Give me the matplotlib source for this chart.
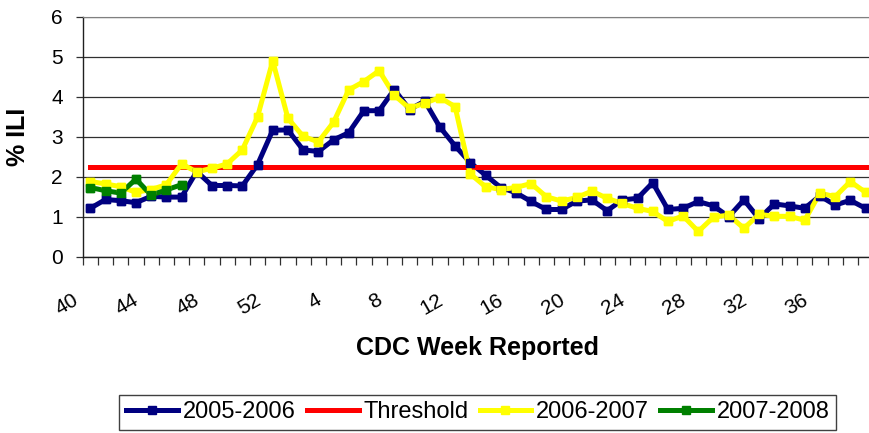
import matplotlib
matplotlib.use("Agg")
import matplotlib.pyplot as plt
from matplotlib.transforms import ScaledTranslation
import numpy as np

plt.rcParams['font.family'] = ['Liberation Sans', 'DejaVu Sans']

weeks = list(range(40, 53)) + list(range(1, 40))

s2005 = [1.21, 1.43, 1.40, 1.35, 1.51, 1.49, 1.49, 2.13, 1.78, 1.78,
         1.77, 2.30, 3.16, 3.17, 2.67, 2.63, 2.92, 3.10, 3.65, 3.65,
         4.18, 3.68, 3.89, 3.24, 2.77, 2.35, 2.04, 1.73, 1.60, 1.38,
         1.18, 1.18, 1.39, 1.42, 1.15, 1.42, 1.46, 1.85, 1.18, 1.21,
         1.38, 1.27, 1.00, 1.42, 0.95, 1.32, 1.27, 1.21, 1.52, 1.29,
         1.41, 1.21]
s2006 = [1.88, 1.82, 1.75, 1.61, 1.68, 1.80, 2.32, 2.12, 2.21, 2.32,
         2.67, 3.49, 4.90, 3.46, 3.01, 2.87, 3.36, 4.17, 4.38, 4.65,
         4.04, 3.71, 3.84, 3.98, 3.75, 2.07, 1.75, 1.68, 1.73, 1.83,
         1.50, 1.39, 1.48, 1.64, 1.46, 1.33, 1.21, 1.13, 0.88, 1.02,
         0.63, 0.99, 1.04, 0.71, 1.06, 1.01, 1.01, 0.91, 1.59, 1.50,
         1.88, 1.61]
s2007 = [1.73, 1.65, 1.59, 1.94, 1.54, 1.67, 1.80]
threshold_value = 2.25
threshold = [threshold_value] * len(weeks)

series_names = ['2005-2006', 'Threshold', '2006-2007', '2007-2008']
colors = ['#000080', '#FF0000', '#FFFF00', '#008000']

fig = plt.figure(figsize=(8.69, 4.33), dpi=100)
ax = fig.add_axes([0.09517, 0.40716, 0.90955, 0.55427])

x = np.arange(len(weeks))
lw = 3.6
ms = 5.5

ax.plot(x, s2005, color=colors[0], lw=lw, marker='s', ms=ms, label=series_names[0], zorder=3)
ax.plot(x, threshold, color=colors[1], lw=lw, label=series_names[1], zorder=3.1)
ax.plot(x, s2006, color=colors[2], lw=lw, marker='s', ms=ms, label=series_names[2], zorder=3.2)
ax.plot(np.arange(len(s2007)), s2007, color=colors[3], lw=lw, marker='s', ms=ms,
        label=series_names[3], zorder=3.3)
# markers drawn above all lines
ax.plot(x, s2005, ls='none', marker='s', ms=ms, color=colors[0], zorder=4)
ax.plot(x, s2006, ls='none', marker='s', ms=ms, color=colors[2], zorder=4.1)
ax.plot(np.arange(len(s2007)), s2007, ls='none', marker='s', ms=ms, color=colors[3], zorder=4.2)

ax.set_xlim(-0.5, len(weeks) - 0.5)
ax.set_ylim(0, 6)
ax.set_yticks(range(0, 7))
ax.grid(axis='y', color='#303030', lw=0.9, zorder=1)
ax.set_axisbelow(True)

ax.spines['right'].set_visible(False)
ax.spines['top'].set_color('#808080')
ax.spines['left'].set_color('#202020')
ax.spines['bottom'].set_color('#202020')
ax.spines['left'].set_linewidth(1.0)
ax.spines['bottom'].set_linewidth(1.0)

# major ticks at category boundaries, labels on minor ticks at centers
ax.set_xticks(np.arange(-0.5, len(weeks) + 0.5, 1.0))
ax.set_xticklabels([])
ax.set_xticks(x[::4], [str(w) for w in weeks[::4]], minor=True)
ax.tick_params(axis='x', which='major', direction='out', length=5.5, width=0.9, color='#303030')
ax.tick_params(axis='x', which='minor', length=0, pad=24, labelsize=15)
ax.tick_params(axis='y', direction='out', length=5, width=0.9, color='#303030', pad=9.4, labelsize=15)

off = ScaledTranslation(-9 / 100, 0, fig.dpi_scale_trans)
for lab in ax.get_xticklabels(minor=True):
    lab.set_rotation(30)
    lab.set_ha('right')
    lab.set_va('top')
    lab.set_transform(lab.get_transform() + off)

ax.set_xlabel('CDC Week Reported', fontsize=18, fontweight='bold', va='baseline')
ax.xaxis.set_label_coords(0.5, (256.7 - 355) / 240)
ax.set_ylabel('% ILI', fontsize=18, fontweight='bold', va='center', ha='center')
ax.yaxis.set_label_coords((18 - 82.7) / 790.4, 0.5)

leg = ax.legend(loc='center', bbox_to_anchor=(0.5, (256.7 - 412.3) / 240), ncol=4,
                fontsize=17, frameon=True, fancybox=False, framealpha=1,
                edgecolor='#404040', borderpad=0.28, handlelength=2.2,
                handletextpad=0.2, columnspacing=0.47, numpoints=1)
leg.get_frame().set_linewidth(1.0)

fig.savefig('out.png', dpi=100, facecolor='white')
